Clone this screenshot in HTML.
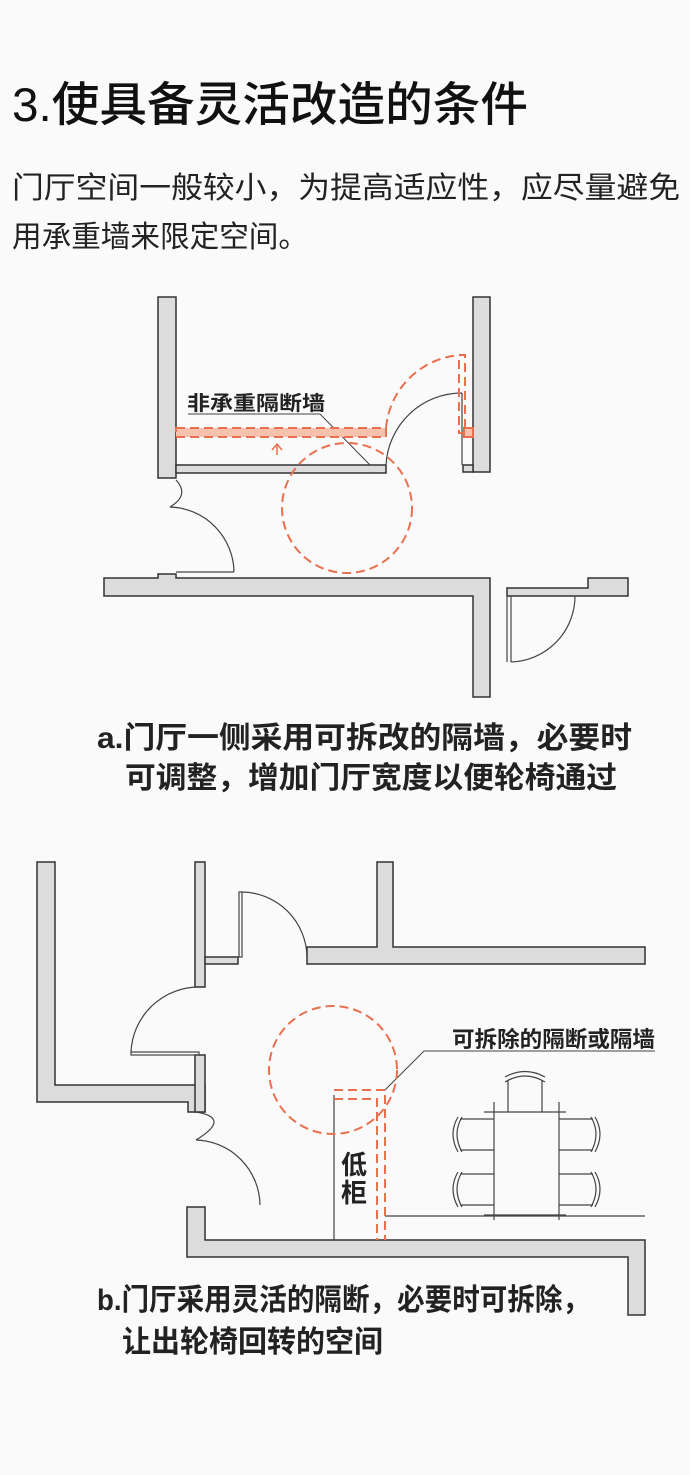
<!DOCTYPE html>
<html><head><meta charset="utf-8"><style>
html,body{margin:0;padding:0;background:#fafafa;}
svg{display:block}
text{font-family:"Liberation Sans","Noto Sans CJK SC",sans-serif;}
</style></head><body>
<svg width="690" height="1475" viewBox="0 0 690 1475" xmlns="http://www.w3.org/2000/svg">
<rect width="690" height="1475" fill="#fafafa"/>
<text x="12" y="121" font-size="47" font-weight="500" fill="#111" textLength="516" lengthAdjust="spacingAndGlyphs">3.使具备灵活改造的条件</text>
<text x="12" y="198" font-size="30" fill="#222" textLength="668" lengthAdjust="spacingAndGlyphs">门厅空间一般较小，为提高适应性，应尽量避免</text>
<text x="12" y="247" font-size="30" fill="#222" textLength="296" lengthAdjust="spacingAndGlyphs">用承重墙来限定空间。</text>

<g fill="#dcdcdc" stroke="#333" stroke-width="1.5">
<rect x="158" y="297" width="18" height="181"/>
<rect x="176" y="465" width="210" height="8"/>
<rect x="473" y="297" width="17" height="175"/>
<rect x="463" y="465" width="10" height="7"/>
<path d="M104 578 H158 V574 H176 V578 H490 V596 H490 V697 H473 V596 H104 Z"/>
<path d="M588 578 H628 V596 H507 V588 H588 Z"/>
<path d="M37 862 H55 V1085 H205 V1112 H188 V1102 H37 Z"/>
<rect x="195" y="862" width="10" height="125"/>
<rect x="205" y="957" width="33" height="7"/>
<rect x="195" y="1055" width="10" height="57"/>
<path d="M377 862 H393 V947 H645 V964 H307 V947 H377 Z"/>
<path d="M187 1207 H205 V1240 H645 V1315 H628 V1257 H187 Z"/>
</g>
<g fill="none" stroke="#444" stroke-width="1.2">
<path d="M176 480 Q190 495 170 507"/>
<path d="M170 507 A66 66 0 0 1 234 572"/>
<line x1="176" y1="572" x2="234" y2="572"/>
<path d="M386 465 A76 76 0 0 1 462 393"/>
<line x1="462" y1="393" x2="462" y2="465"/>
<line x1="507" y1="596" x2="507" y2="662"/>
<line x1="511" y1="596" x2="511" y2="662"/>
<path d="M511 662 A66 66 0 0 0 575 596"/>
<polyline points="188,414 320,414 370,465" stroke-width="1"/>
<rect x="239" y="892" width="3" height="65"/>
<path d="M242 892 A66 66 0 0 1 307 957"/>
<rect x="131" y="1052" width="68" height="3"/>
<path d="M199 987 A68 68 0 0 0 131 1052"/>
<path d="M196 1112 Q232 1118 196 1140"/>
<path d="M196 1140 A66 66 0 0 1 260 1205"/>
<line x1="334" y1="1095" x2="334" y2="1240"/>
<line x1="385" y1="1216" x2="645" y2="1216"/>
<polyline points="655,1051 424,1051 385,1090" stroke-width="1"/>
<line x1="494" y1="1102" x2="494" y2="1220"/>
<line x1="559" y1="1102" x2="559" y2="1220"/>
<line x1="484" y1="1112" x2="566" y2="1112"/>
<line x1="484" y1="1215" x2="566" y2="1215"/>
<path d="M508 1112 V1080 M542 1112 V1080 M505 1082 Q525 1070 545 1082 M505 1077 Q525 1066 545 1077"/>
<path d="M494 1119 H460 M494 1150 H460 M462 1117 Q452 1134 462 1152 M458 1117 Q448 1134 458 1152"/>
<path d="M494 1174 H460 M494 1205 H460 M462 1172 Q452 1189 462 1207 M458 1172 Q448 1189 458 1207"/>
<path d="M559 1119 H593 M559 1150 H593 M591 1117 Q601 1134 591 1152 M595 1117 Q605 1134 595 1152"/>
<path d="M559 1174 H593 M559 1205 H593 M591 1172 Q601 1189 591 1207 M595 1172 Q605 1189 595 1207"/>
</g>
<g fill="none" stroke="#e8704e" stroke-width="2" stroke-dasharray="9,5">
<rect x="176" y="428" width="210" height="9" fill="#f6c2ae"/>
<rect x="464" y="428" width="9" height="9" fill="#f6c2ae" stroke-dasharray="none"/>
<path d="M386 428 A80 80 0 0 1 462 355"/>
<rect x="459" y="355" width="6" height="78"/>
<circle cx="347" cy="508" r="65"/>
<circle cx="333" cy="1070" r="64"/>
<path d="M334 1090 H385 V1240"/>
<path d="M334 1099 H377 V1240"/>
</g>
<path d="M277 455 V445 M272 450 L277 444 L282 450" stroke="#e8704e" stroke-width="1.5" fill="none"/>
<text x="187" y="410" font-size="20" font-weight="bold" fill="#222" textLength="138" lengthAdjust="spacingAndGlyphs">非承重隔断墙</text>
<text x="452" y="1047" font-size="22" font-weight="bold" fill="#222" textLength="203" lengthAdjust="spacingAndGlyphs">可拆除的隔断或隔墙</text>
<text x="341" y="1174" font-size="26" font-weight="bold" fill="#222">低</text>
<text x="341" y="1202" font-size="26" font-weight="bold" fill="#222">柜</text>
<text x="97" y="748" font-size="30" font-weight="bold" fill="#222" textLength="535" lengthAdjust="spacingAndGlyphs">a.门厅一侧采用可拆改的隔墙，必要时</text>
<text x="125" y="788" font-size="30" font-weight="bold" fill="#222" textLength="492" lengthAdjust="spacingAndGlyphs">可调整，增加门厅宽度以便轮椅通过</text>
<text x="97" y="1310" font-size="30" font-weight="bold" fill="#222" textLength="493" lengthAdjust="spacingAndGlyphs">b.门厅采用灵活的隔断，必要时可拆除，</text>
<text x="122" y="1352" font-size="30" font-weight="bold" fill="#222" textLength="261" lengthAdjust="spacingAndGlyphs">让出轮椅回转的空间</text>
</svg>
</body></html>
